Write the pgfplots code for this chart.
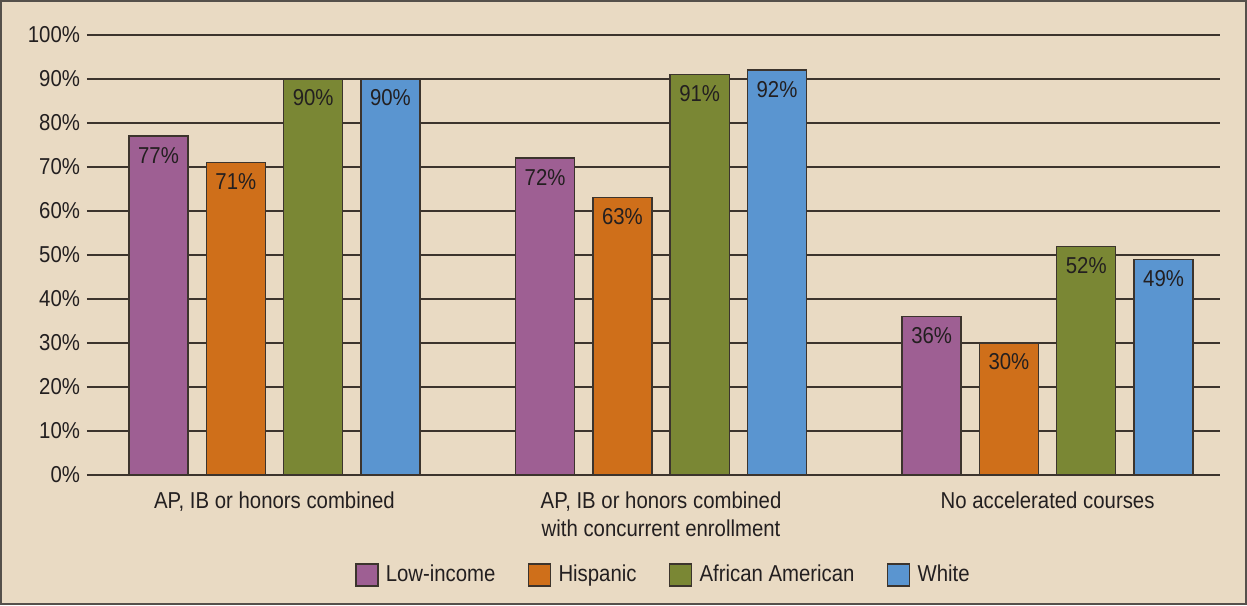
\documentclass[border=0pt]{standalone}
\usepackage{fontspec}
\setmainfont{Liberation Sans}[FakeStretch=0.885]
\usepackage{pgfplots}
\pgfplotsset{compat=1.18}
\definecolor{bg}{RGB}{233,218,195}
\definecolor{frame}{RGB}{85,80,75}
\definecolor{outl}{RGB}{60,52,45}
\definecolor{txt}{RGB}{35,31,32}
\definecolor{cLow}{RGB}{158,95,147}
\definecolor{cHis}{RGB}{207,111,26}
\definecolor{cAfr}{RGB}{122,135,52}
\definecolor{cWhi}{RGB}{90,149,208}
\newcommand{\lblfont}{\fontsize{11.5}{14}\selectfont}
\pgfplotsset{
  mybar/.style={
    ybar, bar width=0.1527, bar shift=0pt, draw=outl, line width=0.7pt, fill=#1,
    nodes near coords={\pgfmathprintnumber[assume math mode=true]{\pgfplotspointmeta}\%},
    every node near coord/.append style={anchor=center, yshift=-9.5pt, font=\lblfont, text=txt},
    legend image code/.code={\draw[fill=#1, draw=outl, line width=0.7pt] (0pt,-5.5pt) rectangle (11pt,5.5pt);}
  }
}
\begin{document}
\begin{tikzpicture}[x=1pt,y=1pt]
\useasboundingbox (-43.5,-65) rectangle (580,237.5);
\fill[bg] (-43.5,-65) rectangle (580,237.5);
\draw[frame, line width=1pt] (-43,-64.5) rectangle (579.5,237);
\begin{axis}[
  at={(0,0)}, anchor=south west,
  scale only axis, width=566.5pt, height=220pt,
  xmin=-0.485, xmax=2.446, ymin=0, ymax=100,
  axis line style={draw=none},
  major tick length=0pt,
  ytick={0,10,...,100},
  yticklabel={\pgfmathprintnumber{\tick}\%},
  ymajorgrids, grid style={draw=outl, line width=0.6pt},
  xtick={0,1,2},
  xticklabels={{AP, IB or honors combined},{AP, IB or honors combined\\with concurrent enrollment},{No accelerated courses}},
  xticklabel style={align=center, anchor=north, yshift=-5pt, font=\lblfont, text=txt},
  yticklabel style={font=\lblfont, text=txt, /pgf/number format/assume math mode=true},
  legend style={at={(0.5096,-0.2273)}, anchor=center, draw=none, fill=none,
    legend columns=4, font=\lblfont, text=txt,
    /tikz/every even column/.append style={column sep=14.2pt},
    /tikz/every odd column/.append style={column sep=1.6pt}},
]
\addplot[mybar=cLow] coordinates {(-0.3,77) (0.7,72) (1.7,36)};
\addlegendentry{Low-income}
\addplot[mybar=cHis] coordinates {(-0.1,71) (0.9,63) (1.9,30)};
\addlegendentry{Hispanic}
\addplot[mybar=cAfr] coordinates {(0.1,90) (1.1,91) (2.1,52)};
\addlegendentry{African American}
\addplot[mybar=cWhi] coordinates {(0.3,90) (1.3,92) (2.3,49)};
\addlegendentry{White}
\end{axis}
\end{tikzpicture}
\end{document}
